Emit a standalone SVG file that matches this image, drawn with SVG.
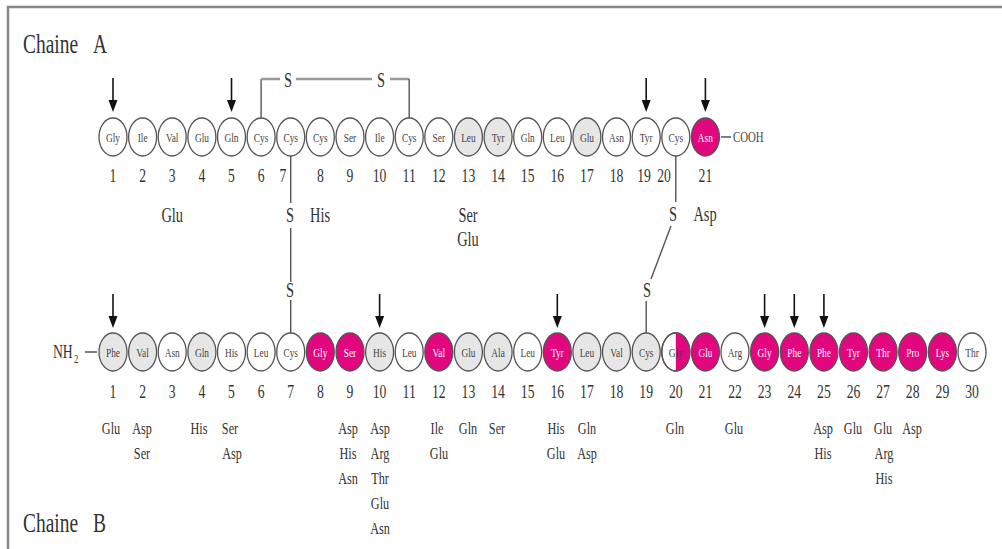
<svg xmlns="http://www.w3.org/2000/svg" width="1002" height="549" viewBox="0 0 1002 549">
<style>
text{font-family:"Liberation Serif","Times New Roman",serif;fill:#222;text-anchor:middle}
.ti{font-size:27px;text-anchor:start;fill:#333}
.r{font-size:13px;fill:#444}
.rw{font-size:13px;fill:#fff}
.n{font-size:19px;fill:#333}
.sa{font-size:20px;fill:#333}
.sb{font-size:17px;fill:#333}
.s{font-size:20px;fill:#333}
.sm{font-size:15px;fill:#444;text-anchor:start}
.w{fill:#fff;stroke:#555;stroke-width:1.3}
.g{fill:#e6e6e6;stroke:#555;stroke-width:1.3}
.m{fill:#e2067f;stroke:#555;stroke-width:1.3}
.o{fill:none;stroke:#555;stroke-width:1.3}
.ln{stroke:#555;stroke-width:1.4;fill:none}
.hl{stroke:#999;stroke-width:2.5;fill:none}
.fr{stroke:#888;stroke-width:2.5;fill:none}
.ar line{stroke:#111;stroke-width:1.6}
.ar path{fill:#111}
</style>
<defs>
<g id="arr" class="ar"><line x1="0" y1="0" x2="0" y2="24"/><path d="M-4.5,22 L4.5,22 L0,34 Z"/></g>
<clipPath id="rh"><rect x="675.8" y="330" width="20" height="45"/></clipPath>
</defs>
<path class="fr" d="M8,549 V7 H1002"/>
<text class="ti" transform="translate(23 53) scale(.72 1)">Chaine</text>
<text class="ti" transform="translate(93 53) scale(.72 1)">A</text>
<text class="ti" transform="translate(23 532) scale(.72 1)">Chaine</text>
<text class="ti" transform="translate(93 532) scale(.72 1)">B</text>

<g id="connectors">
<path class="ln" d="M261.1,118 V79"/>
<path class="hl" d="M261.1,79 H280 M296,79 H372 M390,79 H409.2"/>
<path class="ln" d="M409.2,79 V118"/>
<text class="s" transform="translate(288 87) scale(.72 1)">S</text>
<text class="s" transform="translate(381 87) scale(.72 1)">S</text>
<path class="ln" d="M290.7,156 V203 M290.7,228 V282 M290.7,300 V333"/>
<text class="s" transform="translate(290 222) scale(.72 1)">S</text>
<text class="s" transform="translate(290 297) scale(.72 1)">S</text>
<path class="ln" d="M675.8,156 V202 M671,226 L651,279 M646.2,301 V333"/>
<text class="s" transform="translate(673 221) scale(.72 1)">S</text>
<text class="s" transform="translate(647 297) scale(.72 1)">S</text>
<use href="#arr" x="113" y="78"/>
<use href="#arr" x="231.5" y="78"/>
<use href="#arr" x="646.2" y="78"/>
<use href="#arr" x="705.4" y="78"/>
<use href="#arr" x="113" y="294"/>
<use href="#arr" x="379.6" y="294"/>
<use href="#arr" x="557.3" y="294"/>
<use href="#arr" x="764.6" y="294"/>
<use href="#arr" x="794.3" y="294"/>
<use href="#arr" x="823.9" y="294"/>
<path class="ln" d="M85,352 H97 M721,137 H731"/>
</g>

<text class="n" transform="translate(53 358) scale(.72 1)" style="text-anchor:start">NH</text>
<text class="n" transform="translate(74 363) scale(.72 1)" style="text-anchor:start;font-size:12px">2</text>
<text class="sm" transform="translate(733 142) scale(.72 1)">COOH</text>

<g id="chainA">
<g id="A1"><ellipse class="w" cx="113" cy="137" rx="14" ry="19"/><text class="r" transform="translate(113 141.5) scale(.72 1)">Gly</text><text class="n" transform="translate(113 182) scale(.72 1)">1</text></g>
<g id="A2"><ellipse class="w" cx="142.6" cy="137" rx="14" ry="19"/><text class="r" transform="translate(142.6 141.5) scale(.72 1)">Ile</text><text class="n" transform="translate(142.6 182) scale(.72 1)">2</text></g>
<g id="A3"><ellipse class="w" cx="172.2" cy="137" rx="14" ry="19"/><text class="r" transform="translate(172.2 141.5) scale(.72 1)">Val</text><text class="n" transform="translate(172.2 182) scale(.72 1)">3</text></g>
<g id="A4"><ellipse class="w" cx="201.9" cy="137" rx="14" ry="19"/><text class="r" transform="translate(201.9 141.5) scale(.72 1)">Glu</text><text class="n" transform="translate(201.9 182) scale(.72 1)">4</text></g>
<g id="A5"><ellipse class="w" cx="231.5" cy="137" rx="14" ry="19"/><text class="r" transform="translate(231.5 141.5) scale(.72 1)">Gln</text><text class="n" transform="translate(231.5 182) scale(.72 1)">5</text></g>
<g id="A6"><ellipse class="w" cx="261.1" cy="137" rx="14" ry="19"/><text class="r" transform="translate(261.1 141.5) scale(.72 1)">Cys</text><text class="n" transform="translate(261.1 182) scale(.72 1)">6</text></g>
<g id="A7"><ellipse class="w" cx="290.7" cy="137" rx="14" ry="19"/><text class="r" transform="translate(290.7 141.5) scale(.72 1)">Cys</text><text class="n" transform="translate(283 182) scale(.72 1)">7</text></g>
<g id="A8"><ellipse class="w" cx="320.3" cy="137" rx="14" ry="19"/><text class="r" transform="translate(320.3 141.5) scale(.72 1)">Cys</text><text class="n" transform="translate(320.3 182) scale(.72 1)">8</text></g>
<g id="A9"><ellipse class="w" cx="350" cy="137" rx="14" ry="19"/><text class="r" transform="translate(350 141.5) scale(.72 1)">Ser</text><text class="n" transform="translate(350 182) scale(.72 1)">9</text></g>
<g id="A10"><ellipse class="w" cx="379.6" cy="137" rx="14" ry="19"/><text class="r" transform="translate(379.6 141.5) scale(.72 1)">Ile</text><text class="n" transform="translate(379.6 182) scale(.72 1)">10</text></g>
<g id="A11"><ellipse class="w" cx="409.2" cy="137" rx="14" ry="19"/><text class="r" transform="translate(409.2 141.5) scale(.72 1)">Cys</text><text class="n" transform="translate(409.2 182) scale(.72 1)">11</text></g>
<g id="A12"><ellipse class="w" cx="438.8" cy="137" rx="14" ry="19"/><text class="r" transform="translate(438.8 141.5) scale(.72 1)">Ser</text><text class="n" transform="translate(438.8 182) scale(.72 1)">12</text></g>
<g id="A13"><ellipse class="g" cx="468.4" cy="137" rx="14" ry="19"/><text class="r" transform="translate(468.4 141.5) scale(.72 1)">Leu</text><text class="n" transform="translate(468.4 182) scale(.72 1)">13</text></g>
<g id="A14"><ellipse class="g" cx="498.1" cy="137" rx="14" ry="19"/><text class="r" transform="translate(498.1 141.5) scale(.72 1)">Tyr</text><text class="n" transform="translate(498.1 182) scale(.72 1)">14</text></g>
<g id="A15"><ellipse class="w" cx="527.7" cy="137" rx="14" ry="19"/><text class="r" transform="translate(527.7 141.5) scale(.72 1)">Gln</text><text class="n" transform="translate(527.7 182) scale(.72 1)">15</text></g>
<g id="A16"><ellipse class="w" cx="557.3" cy="137" rx="14" ry="19"/><text class="r" transform="translate(557.3 141.5) scale(.72 1)">Leu</text><text class="n" transform="translate(557.3 182) scale(.72 1)">16</text></g>
<g id="A17"><ellipse class="g" cx="586.9" cy="137" rx="14" ry="19"/><text class="r" transform="translate(586.9 141.5) scale(.72 1)">Glu</text><text class="n" transform="translate(586.9 182) scale(.72 1)">17</text></g>
<g id="A18"><ellipse class="w" cx="616.5" cy="137" rx="14" ry="19"/><text class="r" transform="translate(616.5 141.5) scale(.72 1)">Asn</text><text class="n" transform="translate(616.5 182) scale(.72 1)">18</text></g>
<g id="A19"><ellipse class="w" cx="646.2" cy="137" rx="14" ry="19"/><text class="r" transform="translate(646.2 141.5) scale(.72 1)">Tyr</text><text class="n" transform="translate(644 182) scale(.72 1)">19</text></g>
<g id="A20"><ellipse class="w" cx="675.8" cy="137" rx="14" ry="19"/><text class="r" transform="translate(675.8 141.5) scale(.72 1)">Cys</text><text class="n" transform="translate(664 182) scale(.72 1)">20</text></g>
<g id="A21"><ellipse class="m" cx="705.4" cy="137" rx="14" ry="19"/><text class="rw" transform="translate(705.4 141.5) scale(.72 1)">Asn</text><text class="n" transform="translate(705.4 182) scale(.72 1)">21</text></g>
</g>

<g id="substA">
<text class="sa" transform="translate(172.2 222) scale(.72 1)">Glu</text>
<text class="sa" transform="translate(320 222) scale(.72 1)">His</text>
<text class="sa" transform="translate(468 222) scale(.72 1)">Ser</text>
<text class="sa" transform="translate(468 246) scale(.72 1)">Glu</text>
<text class="sa" transform="translate(705 221) scale(.72 1)">Asp</text>
</g>

<g id="chainB">
<g id="B1"><ellipse class="g" cx="113" cy="352" rx="14" ry="19"/><text class="r" transform="translate(113 356.5) scale(.72 1)">Phe</text><text class="n" transform="translate(113 398) scale(.72 1)">1</text></g>
<g id="B2"><ellipse class="g" cx="142.6" cy="352" rx="14" ry="19"/><text class="r" transform="translate(142.6 356.5) scale(.72 1)">Val</text><text class="n" transform="translate(142.6 398) scale(.72 1)">2</text></g>
<g id="B3"><ellipse class="w" cx="172.2" cy="352" rx="14" ry="19"/><text class="r" transform="translate(172.2 356.5) scale(.72 1)">Asn</text><text class="n" transform="translate(172.2 398) scale(.72 1)">3</text></g>
<g id="B4"><ellipse class="g" cx="201.9" cy="352" rx="14" ry="19"/><text class="r" transform="translate(201.9 356.5) scale(.72 1)">Gln</text><text class="n" transform="translate(201.9 398) scale(.72 1)">4</text></g>
<g id="B5"><ellipse class="w" cx="231.5" cy="352" rx="14" ry="19"/><text class="r" transform="translate(231.5 356.5) scale(.72 1)">His</text><text class="n" transform="translate(231.5 398) scale(.72 1)">5</text></g>
<g id="B6"><ellipse class="w" cx="261.1" cy="352" rx="14" ry="19"/><text class="r" transform="translate(261.1 356.5) scale(.72 1)">Leu</text><text class="n" transform="translate(261.1 398) scale(.72 1)">6</text></g>
<g id="B7"><ellipse class="w" cx="290.7" cy="352" rx="14" ry="19"/><text class="r" transform="translate(290.7 356.5) scale(.72 1)">Cys</text><text class="n" transform="translate(290.7 398) scale(.72 1)">7</text></g>
<g id="B8"><ellipse class="m" cx="320.3" cy="352" rx="14" ry="19"/><text class="rw" transform="translate(320.3 356.5) scale(.72 1)">Gly</text><text class="n" transform="translate(320.3 398) scale(.72 1)">8</text></g>
<g id="B9"><ellipse class="m" cx="350" cy="352" rx="14" ry="19"/><text class="rw" transform="translate(350 356.5) scale(.72 1)">Ser</text><text class="n" transform="translate(350 398) scale(.72 1)">9</text></g>
<g id="B10"><ellipse class="g" cx="379.6" cy="352" rx="14" ry="19"/><text class="r" transform="translate(379.6 356.5) scale(.72 1)">His</text><text class="n" transform="translate(379.6 398) scale(.72 1)">10</text></g>
<g id="B11"><ellipse class="w" cx="409.2" cy="352" rx="14" ry="19"/><text class="r" transform="translate(409.2 356.5) scale(.72 1)">Leu</text><text class="n" transform="translate(409.2 398) scale(.72 1)">11</text></g>
<g id="B12"><ellipse class="m" cx="438.8" cy="352" rx="14" ry="19"/><text class="rw" transform="translate(438.8 356.5) scale(.72 1)">Val</text><text class="n" transform="translate(438.8 398) scale(.72 1)">12</text></g>
<g id="B13"><ellipse class="g" cx="468.4" cy="352" rx="14" ry="19"/><text class="r" transform="translate(468.4 356.5) scale(.72 1)">Glu</text><text class="n" transform="translate(468.4 398) scale(.72 1)">13</text></g>
<g id="B14"><ellipse class="g" cx="498.1" cy="352" rx="14" ry="19"/><text class="r" transform="translate(498.1 356.5) scale(.72 1)">Ala</text><text class="n" transform="translate(498.1 398) scale(.72 1)">14</text></g>
<g id="B15"><ellipse class="w" cx="527.7" cy="352" rx="14" ry="19"/><text class="r" transform="translate(527.7 356.5) scale(.72 1)">Leu</text><text class="n" transform="translate(527.7 398) scale(.72 1)">15</text></g>
<g id="B16"><ellipse class="m" cx="557.3" cy="352" rx="14" ry="19"/><text class="rw" transform="translate(557.3 356.5) scale(.72 1)">Tyr</text><text class="n" transform="translate(557.3 398) scale(.72 1)">16</text></g>
<g id="B17"><ellipse class="g" cx="586.9" cy="352" rx="14" ry="19"/><text class="r" transform="translate(586.9 356.5) scale(.72 1)">Leu</text><text class="n" transform="translate(586.9 398) scale(.72 1)">17</text></g>
<g id="B18"><ellipse class="g" cx="616.5" cy="352" rx="14" ry="19"/><text class="r" transform="translate(616.5 356.5) scale(.72 1)">Val</text><text class="n" transform="translate(616.5 398) scale(.72 1)">18</text></g>
<g id="B19"><ellipse class="g" cx="646.2" cy="352" rx="14" ry="19"/><text class="r" transform="translate(646.2 356.5) scale(.72 1)">Cys</text><text class="n" transform="translate(646.2 398) scale(.72 1)">19</text></g>
<g id="B20"><ellipse class="w" cx="675.8" cy="352" rx="14" ry="19"/><path d="M675.8,333 A14,19 0 0 1 675.8,371 Z" fill="#e2067f"/><ellipse class="o" cx="675.8" cy="352" rx="14" ry="19"/><text class="r" transform="translate(675.8 356.5) scale(.72 1)">Gly</text><text class="rw" clip-path="url(#rh)" transform="translate(675.8 356.5) scale(.72 1)">Gly</text><text class="n" transform="translate(675.8 398) scale(.72 1)">20</text></g>
<g id="B21"><ellipse class="m" cx="705.4" cy="352" rx="14" ry="19"/><text class="rw" transform="translate(705.4 356.5) scale(.72 1)">Glu</text><text class="n" transform="translate(705.4 398) scale(.72 1)">21</text></g>
<g id="B22"><ellipse class="w" cx="735" cy="352" rx="14" ry="19"/><text class="r" transform="translate(735 356.5) scale(.72 1)">Arg</text><text class="n" transform="translate(735 398) scale(.72 1)">22</text></g>
<g id="B23"><ellipse class="m" cx="764.6" cy="352" rx="14" ry="19"/><text class="rw" transform="translate(764.6 356.5) scale(.72 1)">Gly</text><text class="n" transform="translate(764.6 398) scale(.72 1)">23</text></g>
<g id="B24"><ellipse class="m" cx="794.3" cy="352" rx="14" ry="19"/><text class="rw" transform="translate(794.3 356.5) scale(.72 1)">Phe</text><text class="n" transform="translate(794.3 398) scale(.72 1)">24</text></g>
<g id="B25"><ellipse class="m" cx="823.9" cy="352" rx="14" ry="19"/><text class="rw" transform="translate(823.9 356.5) scale(.72 1)">Phe</text><text class="n" transform="translate(823.9 398) scale(.72 1)">25</text></g>
<g id="B26"><ellipse class="m" cx="853.5" cy="352" rx="14" ry="19"/><text class="rw" transform="translate(853.5 356.5) scale(.72 1)">Tyr</text><text class="n" transform="translate(853.5 398) scale(.72 1)">26</text></g>
<g id="B27"><ellipse class="m" cx="883.1" cy="352" rx="14" ry="19"/><text class="rw" transform="translate(883.1 356.5) scale(.72 1)">Thr</text><text class="n" transform="translate(883.1 398) scale(.72 1)">27</text></g>
<g id="B28"><ellipse class="m" cx="912.7" cy="352" rx="14" ry="19"/><text class="rw" transform="translate(912.7 356.5) scale(.72 1)">Pro</text><text class="n" transform="translate(912.7 398) scale(.72 1)">28</text></g>
<g id="B29"><ellipse class="m" cx="942.4" cy="352" rx="14" ry="19"/><text class="rw" transform="translate(942.4 356.5) scale(.72 1)">Lys</text><text class="n" transform="translate(942.4 398) scale(.72 1)">29</text></g>
<g id="B30"><ellipse class="w" cx="972" cy="352" rx="14" ry="19"/><text class="r" transform="translate(972 356.5) scale(.72 1)">Thr</text><text class="n" transform="translate(972 398) scale(.72 1)">30</text></g>
</g>

<g id="substB">
<text class="sb" transform="translate(111 433.5) scale(.72 1)">Glu</text>
<text class="sb" transform="translate(142 433.5) scale(.72 1)">Asp</text>
<text class="sb" transform="translate(142 458.5) scale(.72 1)">Ser</text>
<text class="sb" transform="translate(199 433.5) scale(.72 1)">His</text>
<text class="sb" transform="translate(230 433.5) scale(.72 1)">Ser</text>
<text class="sb" transform="translate(232 458.5) scale(.72 1)">Asp</text>
<text class="sb" transform="translate(348 433.5) scale(.72 1)">Asp</text>
<text class="sb" transform="translate(348 458.5) scale(.72 1)">His</text>
<text class="sb" transform="translate(348 483.5) scale(.72 1)">Asn</text>
<text class="sb" transform="translate(380 433.5) scale(.72 1)">Asp</text>
<text class="sb" transform="translate(380 458.5) scale(.72 1)">Arg</text>
<text class="sb" transform="translate(380 483.5) scale(.72 1)">Thr</text>
<text class="sb" transform="translate(380 508.5) scale(.72 1)">Glu</text>
<text class="sb" transform="translate(380 533.5) scale(.72 1)">Asn</text>
<text class="sb" transform="translate(437 433.5) scale(.72 1)">Ile</text>
<text class="sb" transform="translate(439 458.5) scale(.72 1)">Glu</text>
<text class="sb" transform="translate(468 433.5) scale(.72 1)">Gln</text>
<text class="sb" transform="translate(497 433.5) scale(.72 1)">Ser</text>
<text class="sb" transform="translate(556 433.5) scale(.72 1)">His</text>
<text class="sb" transform="translate(556 458.5) scale(.72 1)">Glu</text>
<text class="sb" transform="translate(587 433.5) scale(.72 1)">Gln</text>
<text class="sb" transform="translate(587 458.5) scale(.72 1)">Asp</text>
<text class="sb" transform="translate(675 433.5) scale(.72 1)">Gln</text>
<text class="sb" transform="translate(734 433.5) scale(.72 1)">Glu</text>
<text class="sb" transform="translate(823 433.5) scale(.72 1)">Asp</text>
<text class="sb" transform="translate(823 458.5) scale(.72 1)">His</text>
<text class="sb" transform="translate(853 433.5) scale(.72 1)">Glu</text>
<text class="sb" transform="translate(883 433.5) scale(.72 1)">Glu</text>
<text class="sb" transform="translate(884 458.5) scale(.72 1)">Arg</text>
<text class="sb" transform="translate(884 483.5) scale(.72 1)">His</text>
<text class="sb" transform="translate(912 433.5) scale(.72 1)">Asp</text>
</g>
</svg>
